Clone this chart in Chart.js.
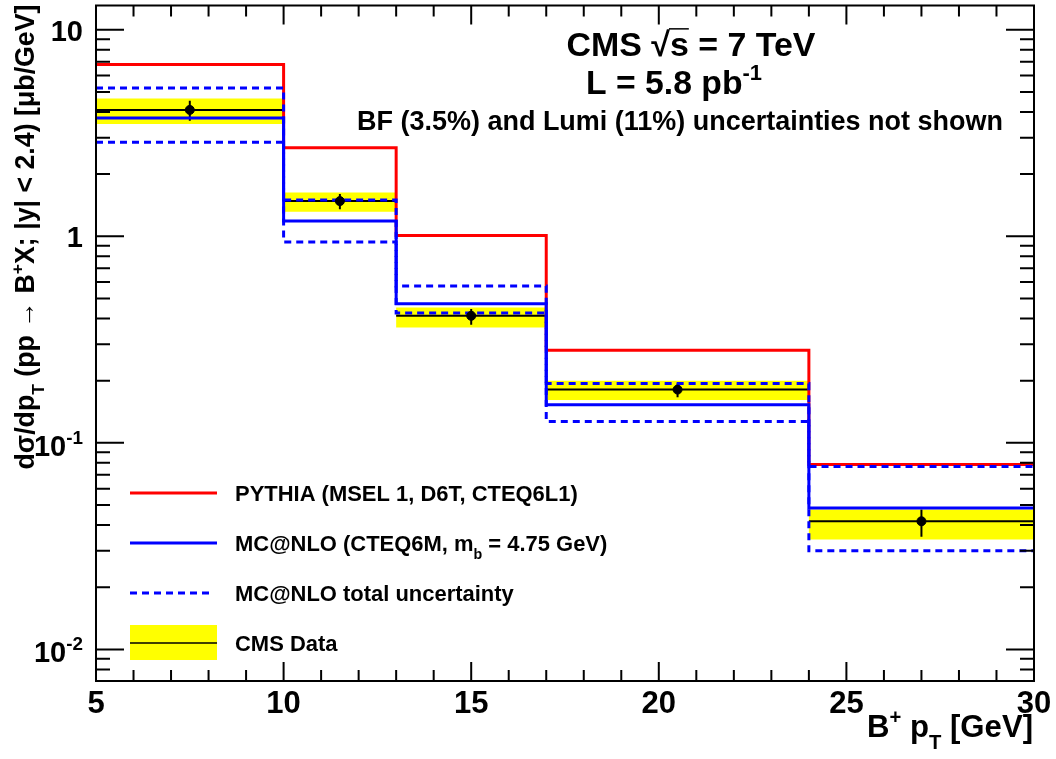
<!DOCTYPE html>
<html>
<head>
<meta charset="utf-8">
<script src="https://cdn.jsdelivr.net/npm/chart.js@4.4.1/dist/chart.umd.min.js"></script>
<style>
  html, body { margin: 0; padding: 0; background: #fff; }
  #wrap { width: 1056px; height: 759px; }
</style>
</head>
<body>
<div id="wrap"><canvas id="grafico" width="1056" height="759"></canvas></div>
<script>
// bins em pT (GeV) e valores
const binEdges = [5, 10, 13, 17, 24, 30];
const pythia = [6.78, 2.68, 1.01, 0.281, 0.0785];
const mcnlo = [3.74, 1.186, 0.472, 0.153, 0.0483];
const mcnloUp = [5.22, 1.50, 0.575, 0.194, 0.0768];
const mcnloDown = [2.855, 0.939, 0.425, 0.127, 0.030];
const dataX = [7.5, 11.5, 15, 20.5, 27];
const dataY = [4.09, 1.48, 0.412, 0.181, 0.0417];
const statHi = [4.53, 1.60, 0.444, 0.194, 0.0475];
const statLo = [3.63, 1.35, 0.373, 0.166, 0.0351];
const sysHi = [4.64, 1.63, 0.452, 0.200, 0.0475];
const sysLo = [3.50, 1.315, 0.362, 0.161, 0.034];
const xTicks = [5, 10, 15, 20, 25, 30];
const yTicks = [10, 1, 0.1, 0.01];
const yTickLabels = [['10'], ['1'], ['10', '-1'], ['10', '-2']];
const legendLabels = [
  [{ t: 'PYTHIA (MSEL 1, D6T, CTEQ6L1)' }],
  [{ t: 'MC@NLO (CTEQ6M, m' }, { t: 'b', s: 'sub' }, { t: ' = 4.75 GeV)' }],
  [{ t: 'MC@NLO total uncertainty' }],
  [{ t: 'CMS Data' }]
];

const FONTE = '"Liberation Sans", Arial, Helvetica, sans-serif';
function fonte(tam) { return `bold ${tam}px ${FONTE}`; }

function degraus(valores) {
  const pts = [];
  valores.forEach((v, i) => pts.push({ x: binEdges[i], y: v }, { x: binEdges[i + 1], y: v }));
  return pts;
}
function barrasX(valores) {
  const pts = [];
  valores.forEach((v, i) => pts.push({ x: binEdges[i], y: v }, { x: binEdges[i + 1], y: v }, { x: binEdges[i + 1], y: null }));
  return pts;
}
function barrasY() {
  const pts = [];
  dataX.forEach((x, i) => pts.push({ x, y: statHi[i] }, { x, y: statLo[i] }, { x, y: null }));
  return pts;
}

function larguraRica(ctx, partes, tam) {
  let w = 0;
  partes.forEach(p => {
    ctx.font = fonte(p.s ? tam * 0.65 : tam);
    w += ctx.measureText(p.t).width;
  });
  return w;
}
function textoRico(ctx, partes, x, y, tam, alinhar) {
  const w = larguraRica(ctx, partes, tam);
  let cx = alinhar === 'center' ? x - w / 2 : alinhar === 'right' ? x - w : x;
  ctx.textAlign = 'left';
  ctx.textBaseline = 'alphabetic';
  ctx.fillStyle = '#000';
  partes.forEach(p => {
    const t = p.s ? tam * 0.65 : tam;
    const dy = p.s === 'sup' ? -tam * 0.42 : p.s === 'sub' ? tam * 0.38 : 0;
    ctx.font = fonte(t);
    ctx.fillText(p.t, cx, y + dy);
    const lw = ctx.measureText(p.t).width;
    if (p.over) {
      ctx.save();
      ctx.strokeStyle = '#000';
      ctx.lineWidth = 1.5;
      ctx.beginPath();
      ctx.moveTo(cx - 1, y - tam * 0.8);
      ctx.lineTo(cx + lw, y - tam * 0.8);
      ctx.stroke();
      ctx.restore();
    }
    cx += lw;
  });
  return w;
}
function tamanhoPara(ctx, partes, largura) {
  return 20 * largura / larguraRica(ctx, partes, 20);
}

const molduraPlugin = {
  id: 'moldura',
  beforeDraw(chart) {
    const ctx = chart.ctx;
    ctx.save();
    ctx.fillStyle = '#fff';
    ctx.fillRect(0, 0, chart.width, chart.height);
    ctx.restore();
  },
  afterDatasetsDraw(chart) {
    const { ctx, chartArea: a, scales: { x, y } } = chart;
    ctx.save();
    ctx.strokeStyle = '#000';
    ctx.lineWidth = 2;
    ctx.beginPath();
    for (let v = xTicks[0]; v <= xTicks[xTicks.length - 1]; v++) {
      const px = x.getPixelForValue(v);
      const len = xTicks.includes(v) ? 19 : 11;
      ctx.moveTo(px, a.bottom); ctx.lineTo(px, a.bottom - len);
      ctx.moveTo(px, a.top); ctx.lineTo(px, a.top + len);
    }
    for (let d = -3; d <= 1; d++) {
      for (let m = 1; m <= 9; m++) {
        const v = m * Math.pow(10, d);
        if (v < y.min || v > y.max) continue;
        const py = y.getPixelForValue(v);
        const len = m === 1 ? 28 : 14;
        ctx.moveTo(a.left, py); ctx.lineTo(a.left + len, py);
        ctx.moveTo(a.right, py); ctx.lineTo(a.right - len, py);
      }
    }
    ctx.stroke();
    ctx.strokeRect(a.left, a.top, a.right - a.left, a.bottom - a.top);
    ctx.restore();
  },
  afterDraw(chart) {
    const { ctx, scales: { x, y } } = chart;
    ctx.save();
    // rotulos dos eixos
    yTicks.forEach((v, i) => {
      const lab = yTickLabels[i];
      const partes = lab.length > 1 ? [{ t: lab[0] }, { t: lab[1], s: 'sup' }] : [{ t: lab[0] }];
      textoRico(ctx, partes, 83, y.getPixelForValue(v) + (lab.length > 1 ? 13 : 11), 29, 'right');
    });
    xTicks.forEach(v => textoRico(ctx, [{ t: String(v) }], x.getPixelForValue(v), 713, 31, 'center'));

    // titulos dos eixos
    const xTitulo = [{ t: 'B' }, { t: '+', s: 'sup' }, { t: ' p' }, { t: 'T', s: 'sub' }, { t: ' [GeV]' }];
    textoRico(ctx, xTitulo, 1033, 737, tamanhoPara(ctx, xTitulo, 166), 'right');
    const yTitulo = [{ t: 'dσ/dp' }, { t: 'T', s: 'sub' }, { t: ' (pp → B' }, { t: '+', s: 'sup' }, { t: 'X; |y| < 2.4) [μb/GeV]' }];
    ctx.save();
    ctx.translate(34, 237);
    ctx.rotate(-Math.PI / 2);
    textoRico(ctx, yTitulo, 0, 0, tamanhoPara(ctx, yTitulo, 465), 'center');
    ctx.restore();

    // textos do topo
    const l1 = [{ t: 'CMS ' }, { t: '√' }, { t: 's', over: true }, { t: ' = 7 TeV' }];
    textoRico(ctx, l1, 691, 56, tamanhoPara(ctx, l1, 249), 'center');
    const l2 = [{ t: 'L = 5.8 pb' }, { t: '-1', s: 'sup' }];
    textoRico(ctx, l2, 674, 94, tamanhoPara(ctx, l2, 176), 'center');
    const l3 = [{ t: 'BF (3.5%) and Lumi (11%) uncertainties not shown' }];
    textoRico(ctx, l3, 680, 130, tamanhoPara(ctx, l3, 646), 'center');

    // legenda
    const legY = [493, 543, 593, 643];
    const tamLeg = tamanhoPara(ctx, legendLabels[0], 343);
    ctx.lineWidth = 3;
    ctx.strokeStyle = '#ff0000';
    ctx.beginPath(); ctx.moveTo(130, legY[0]); ctx.lineTo(217, legY[0]); ctx.stroke();
    ctx.strokeStyle = '#0000ff';
    ctx.beginPath(); ctx.moveTo(130, legY[1]); ctx.lineTo(217, legY[1]); ctx.stroke();
    ctx.setLineDash([7, 5]);
    ctx.beginPath(); ctx.moveTo(130, legY[2]); ctx.lineTo(212, legY[2]); ctx.stroke();
    ctx.setLineDash([]);
    ctx.fillStyle = '#ffff00';
    ctx.fillRect(130, legY[3] - 18, 87, 35);
    ctx.strokeStyle = '#000';
    ctx.lineWidth = 1.5;
    ctx.beginPath(); ctx.moveTo(130, legY[3]); ctx.lineTo(217, legY[3]); ctx.stroke();
    legendLabels.forEach((partes, i) => textoRico(ctx, partes, 235, legY[i] + 7.5, tamLeg, 'left'));
    ctx.restore();
  }
};

const linha = (data, cor, extra) => Object.assign({
  type: 'line', data, borderColor: cor, borderWidth: 3, pointRadius: 0, fill: false,
  tension: 0, spanGaps: false
}, extra || {});

new Chart(document.getElementById('grafico'), {
  type: 'line',
  data: {
    datasets: [
      { type: 'scatter', data: dataX.map((x, i) => ({ x, y: dataY[i] })), pointRadius: 4.5,
        pointBackgroundColor: '#000', pointBorderColor: '#000', showLine: false },
      linha(degraus(mcnloUp), '#0000ff', { borderDash: [7, 5] }),
      linha(degraus(mcnloDown), '#0000ff', { borderDash: [7, 5] }),
      linha(degraus(mcnlo), '#0000ff'),
      linha(degraus(pythia), '#ff0000'),
      linha(barrasY(), '#000', { borderWidth: 2 }),
      linha(barrasX(dataY), '#000', { borderWidth: 2 }),
      linha(degraus(sysHi), 'rgba(0,0,0,0)', { borderWidth: 0, fill: '+1', backgroundColor: '#ffff00' }),
      linha(degraus(sysLo), 'rgba(0,0,0,0)', { borderWidth: 0 })
    ]
  },
  options: {
    responsive: false,
    animation: false,
    devicePixelRatio: 1,
    layout: { padding: { left: 96, right: 22, top: 4, bottom: 78 } },
    plugins: { legend: { display: false }, tooltip: { enabled: false } },
    scales: {
      x: { type: 'linear', min: 5, max: 30, display: false },
      y: { type: 'logarithmic', min: 0.00703, max: 13.1, display: false }
    }
  },
  plugins: [molduraPlugin]
});
</script>
</body>
</html>
